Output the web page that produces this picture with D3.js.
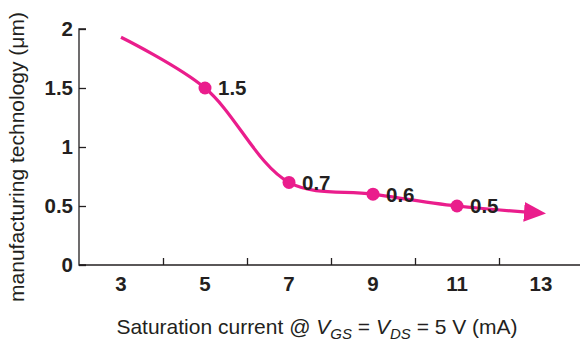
<!DOCTYPE html>
<html><head><meta charset="utf-8">
<script src="https://cdn.jsdelivr.net/npm/d3@7/dist/d3.min.js"></script>
<style>
body{margin:0;background:#fff;}
svg{display:block;font-family:"Liberation Sans",Arial,Helvetica,sans-serif;}
</style></head>
<body><svg id="c" width="580" height="343"></svg>
<script>
const lineX = [3, 5, 7, 9, 11, 13];
const lineY = [1.93, 1.5, 0.7, 0.6, 0.5, 0.44];
const pointX = [5, 7, 9, 11];
const pointY = [1.5, 0.7, 0.6, 0.5];
const pointLabels = ["1.5", "0.7", "0.6", "0.5"];
const xTickLabels = [3, 5, 7, 9, 11, 13];
const xTickMarks = [4, 6, 8, 10, 12];
const yTicks = [0, 0.5, 1, 1.5, 2];
const yTickLabels = ["0", "0.5", "1", "1.5", "2"];
const color = "#ea1d8c";

const svg = d3.select("#c");
const x = d3.scaleLinear().domain([2, 14]).range([79, 583]);
const y = d3.scaleLinear().domain([0, 2]).range([265, 29]);

// axes
const yAxis = d3.axisRight(y).tickValues(yTicks).tickSize(7).tickFormat("");
const gy = svg.append("g").attr("transform", `translate(${x(2)},0)`).call(yAxis);
gy.select(".domain").attr("d", `M7,${y(0)}H0V${y(2)}H7`).attr("stroke", "#231f20").attr("stroke-width", 1.3);
gy.selectAll(".tick line").attr("stroke", "#231f20").attr("stroke-width", 1.3);

const xAxis = d3.axisTop(x).tickValues(xTickMarks).tickSize(7).tickFormat("");
const gx = svg.append("g").attr("transform", `translate(0,${y(0)})`).call(xAxis);
gx.select(".domain").attr("d", `M${x(2)},0H580`).attr("stroke", "#231f20").attr("stroke-width", 1.3);
gx.selectAll(".tick line").attr("stroke", "#231f20").attr("stroke-width", 1.3);

// y tick labels
svg.append("g").selectAll("text").data(yTicks).join("text")
  .attr("x", 73).attr("y", d => y(d)).attr("dy", "0.36em")
  .attr("text-anchor", "end").attr("font-weight", "bold").attr("font-size", 20.5)
  .attr("fill", "#231f20").text((d, i) => yTickLabels[i]);

// x tick labels
svg.append("g").selectAll("text").data(xTickLabels).join("text")
  .attr("x", d => x(d)).attr("y", 291)
  .attr("text-anchor", "middle").attr("font-weight", "bold").attr("font-size", 20.5)
  .attr("fill", "#231f20").text(d => d);

// axis titles
svg.append("text").attr("transform", "translate(24,157) rotate(-90)")
  .attr("text-anchor", "middle").attr("font-size", 21).attr("fill", "#231f20")
  .text("manufacturing technology (\u03bcm)");

const xt = svg.append("text").attr("x", 317).attr("y", 334)
  .attr("text-anchor", "middle").attr("font-size", 21).attr("fill", "#231f20");
xt.append("tspan").text("Saturation current @ ");
xt.append("tspan").attr("font-style", "italic").text("V");
xt.append("tspan").attr("font-style", "italic").attr("font-size", 15).attr("dy", 5).text("GS");
xt.append("tspan").attr("dy", -5).text(" = ");
xt.append("tspan").attr("font-style", "italic").text("V");
xt.append("tspan").attr("font-style", "italic").attr("font-size", 15).attr("dy", 5).text("DS");
xt.append("tspan").attr("dy", -5).text(" = 5 V (mA)");

// arrow marker
const defs = svg.append("defs");
defs.append("marker").attr("id", "arr").attr("markerUnits", "userSpaceOnUse")
  .attr("viewBox", "0 0 22 20").attr("markerWidth", 22).attr("markerHeight", 20)
  .attr("refX", 17).attr("refY", 10).attr("orient", "auto")
  .append("path").attr("d", "M0,0L22,10L0,20Z").attr("fill", color);

// line
const data = lineX.map((d, i) => [d, lineY[i]]);
const line = d3.line().x(d => x(d[0])).y(d => y(d[1])).curve(d3.curveCatmullRom.alpha(0.5));
svg.append("path").datum(data).attr("d", line).attr("fill", "none")
  .attr("stroke", color).attr("stroke-width", 3.2).attr("marker-end", "url(#arr)");

// points
svg.append("g").selectAll("circle").data(pointX).join("circle")
  .attr("cx", d => x(d)).attr("cy", (d, i) => y(pointY[i])).attr("r", 6.5).attr("fill", color);

svg.append("g").selectAll("text").data(pointX).join("text")
  .attr("x", d => x(d) + 13).attr("y", (d, i) => y(pointY[i])).attr("dy", "0.36em")
  .attr("font-weight", "bold").attr("font-size", 20.5).attr("fill", "#231f20")
  .text((d, i) => pointLabels[i]);
</script></body></html>
